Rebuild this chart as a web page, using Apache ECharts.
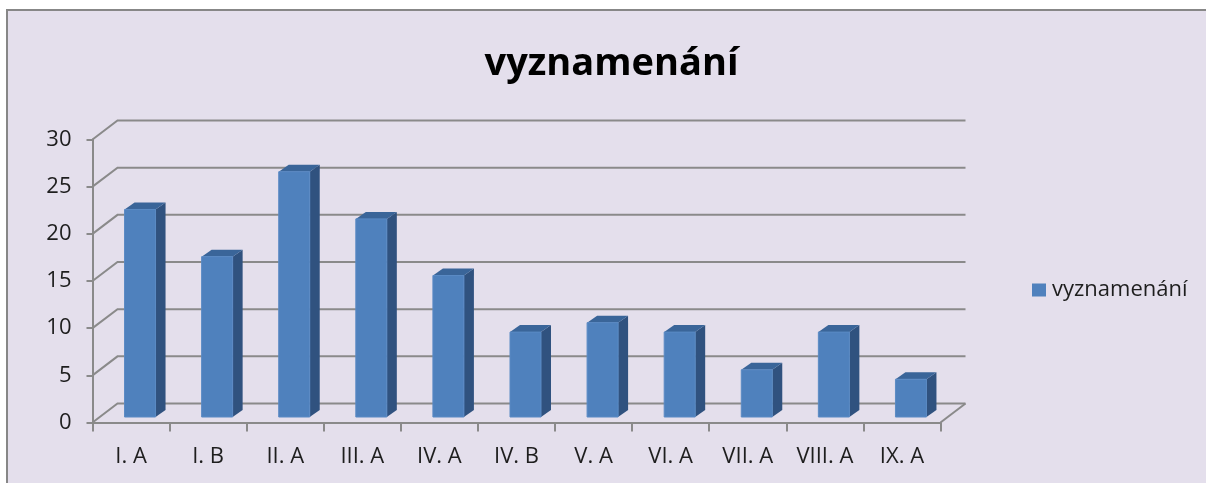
<!DOCTYPE html>
<html>
<head>
<meta charset="utf-8">
<script src="https://cdn.jsdelivr.net/npm/echarts@6/dist/echarts.min.js"></script>
<style>
  html, body { margin: 0; padding: 0; background: #ffffff; }
  #bg { position: absolute; left: 6px; top: 9px; width: 1300px; height: 600px;
        background: #E4DFEC; border-left: 2.5px solid #878787; border-top: 2.5px solid #878787; }
  #chart { position: absolute; left: 0; top: 0; width: 1206px; height: 483px; }
</style>
</head>
<body>
<div id="bg"></div>
<div id="chart"></div>
<script>
const chartTitle = 'vyznamenání';
const seriesName = 'vyznamenání';
const categories = ['I. A', 'I. B', 'II. A', 'III. A', 'IV. A', 'IV. B', 'V. A', 'VI. A', 'VII. A', 'VIII. A', 'IX. A'];
const values = [22, 17, 26, 21, 15, 9, 10, 9, 5, 9, 4];
const yTicks = [0, 5, 10, 15, 20, 25, 30];

// perspective settings
const WALL_DX = 25, WALL_DY = 19;     // back wall offset
const BAR_OX = 9, BAR_OY = -5.5;      // bar front face offset from front plane
const BAR_W = 31;                     // bar front width
const SIDE_DX = 10, SIDE_DY = 7;      // bar depth
const GRID_COLOR = '#8A8A8A';
const FRONT = '#4F81BD', SIDE = '#30527F', TOP = '#3A6599';
const FONT = '"Open Sans", "Noto Sans", sans-serif';

const chart = echarts.init(document.getElementById('chart'), null, { renderer: 'canvas' });

function gridRender(params, api) {
  const cs = params.coordSys;
  const v = api.value(1);
  const y = api.coord([0, v])[1];
  const x0 = cs.x, x1 = cs.x + cs.width;
  const children = [{
    type: 'polyline',
    shape: { points: [[x0, y], [x0 + WALL_DX, y - WALL_DY], [x1 + WALL_DX, y - WALL_DY]] },
    style: { stroke: GRID_COLOR, lineWidth: 2, fill: null }
  }];
  if (v === 0) {
    children.push({
      type: 'line',
      shape: { x1: x1, y1: y, x2: x1 + WALL_DX, y2: y - WALL_DY },
      style: { stroke: GRID_COLOR, lineWidth: 2 }
    });
  }
  return { type: 'group', children: children };
}

function barRender(params, api) {
  const i = api.value(0), v = api.value(1);
  const top = api.coord([i, v]);
  const bot = api.coord([i, 0]);
  const x = top[0] - BAR_W / 2 + BAR_OX;
  const yt = top[1] + BAR_OY;
  const yb = bot[1] + BAR_OY;
  return {
    type: 'group',
    children: [
      { type: 'polygon',
        shape: { points: [[x + BAR_W, yt], [x + BAR_W + SIDE_DX, yt - SIDE_DY], [x + BAR_W + SIDE_DX, yb - SIDE_DY], [x + BAR_W, yb]] },
        style: { fill: SIDE } },
      { type: 'polygon',
        shape: { points: [[x, yt], [x + SIDE_DX, yt - SIDE_DY], [x + BAR_W + SIDE_DX, yt - SIDE_DY], [x + BAR_W, yt]] },
        style: { fill: TOP } },
      { type: 'rect',
        shape: { x: x, y: yt, width: BAR_W, height: yb - yt },
        style: { fill: FRONT, stroke: '#5A8AC4', lineWidth: 1 } }
    ]
  };
}

chart.setOption({
  backgroundColor: 'transparent',
  animation: false,
  graphic: [{
    type: 'text', x: 611.5, y: 64,
    style: { text: chartTitle, font: 'bold 38px ' + FONT, fill: '#000000',
             textAlign: 'center', textVerticalAlign: 'middle' }
  }],
  legend: {
    data: [seriesName],
    left: 1032, top: 279,
    itemWidth: 14, itemHeight: 13, padding: 0,
    icon: 'rect',
    textStyle: { fontSize: 22, fontFamily: FONT, color: '#1e1e1e', padding: [0, 0, 0, 1] }
  },
  grid: { left: 92.5, right: 265.5, top: 139.5, bottom: 60.5, containLabel: false },
  xAxis: {
    type: 'category',
    data: categories,
    boundaryGap: true,
    axisLine: { show: true, lineStyle: { color: GRID_COLOR, width: 2 } },
    axisTick: { show: true, length: 9, interval: 0, lineStyle: { color: GRID_COLOR, width: 2 } },
    axisLabel: { interval: 0, margin: 23, fontSize: 22, fontFamily: FONT, color: '#1e1e1e' },
    splitLine: { show: false }
  },
  yAxis: {
    type: 'value',
    min: 0, max: 30, interval: 5,
    axisLine: { show: true, lineStyle: { color: GRID_COLOR, width: 2 } },
    axisTick: { show: true, length: 6, lineStyle: { color: GRID_COLOR, width: 2 } },
    axisLabel: { margin: 21, fontSize: 22, fontFamily: FONT, color: '#1e1e1e', padding: [6, 0, 0, 0] },
    splitLine: { show: false }
  },
  series: [
    { name: 'grid', type: 'custom', silent: true, z: 1,
      renderItem: gridRender, encode: { x: 0, y: 1 },
      data: yTicks.map(v => [0, v]) },
    { name: seriesName, type: 'custom', z: 3,
      itemStyle: { color: FRONT },
      renderItem: barRender, encode: { x: 0, y: 1 },
      data: values.map((v, i) => [i, v]) }
  ]
});
</script>
</body>
</html>
